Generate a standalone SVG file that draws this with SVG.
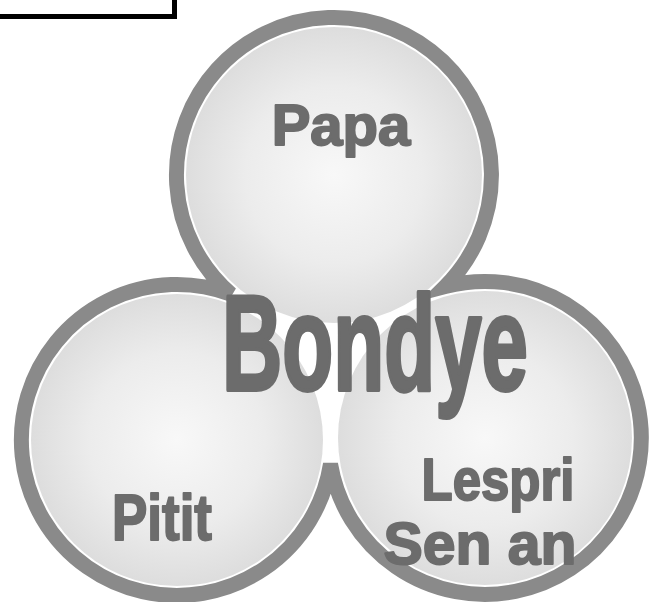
<svg xmlns="http://www.w3.org/2000/svg" width="654" height="602" viewBox="0 0 654 602">
  <defs>
    <radialGradient id="ball" cx="0.5" cy="0.5" r="0.5">
      <stop offset="0" stop-color="#f8f8f8"/>
      <stop offset="0.6" stop-color="#ececec"/>
      <stop offset="1" stop-color="#dddddd"/>
    </radialGradient>
    <style>
      .ball { fill: url(#ball); }
      .lbl { font-family: "Liberation Sans", Arial, sans-serif; font-weight: bold; fill: #6c6c6c; stroke: #6c6c6c; stroke-width: 2; stroke-linejoin: round; text-anchor: middle; }
      .big { font-family: "Liberation Sans Narrow", "Liberation Sans", Arial, sans-serif; font-weight: bold; fill: #6c6c6c; stroke: #6c6c6c; stroke-width: 4; stroke-linejoin: round; }
    </style>
  </defs>
  <rect width="654" height="602" fill="#ffffff"/>
  <rect x="-10" y="-10" width="184.5" height="26.5" fill="#ffffff" stroke="#000000" stroke-width="5"/>
  <g id="outline">
    <path d="M 231 294.2 A 157.5 157.5 0 1 1 445.2 286.5 A 156.5 156.5 0 1 1 330.5 464 A 155.5 155.5 0 1 1 231 294.2 Z" fill="#ffffff" stroke="#8a8a8a" stroke-width="15"/>
  </g>
  <g id="connectors"></g>
  <g id="papa">
    <circle class="ball" cx="334" cy="175" r="148"/>
    <text class="lbl" x="341" y="145" font-size="58">Papa</text>
  </g>
  <g id="pitit">
    <circle class="ball" cx="177" cy="440" r="146"/>
    <text class="lbl" x="162" y="540" font-size="64" textLength="100" lengthAdjust="spacingAndGlyphs">Pitit</text>
  </g>
  <g id="lespri">
    <circle class="ball" cx="485" cy="438" r="147"/>
    <text class="lbl" x="498" y="500" font-size="60" textLength="153" lengthAdjust="spacingAndGlyphs">Lespri</text>
    <text class="lbl" x="480" y="564" font-size="60" textLength="193" lengthAdjust="spacingAndGlyphs">Sen an</text>
  </g>
  <g id="bondye">
    <text class="big" x="222" y="390" font-size="136" textLength="306" lengthAdjust="spacingAndGlyphs">Bondye</text>
  </g>
</svg>
